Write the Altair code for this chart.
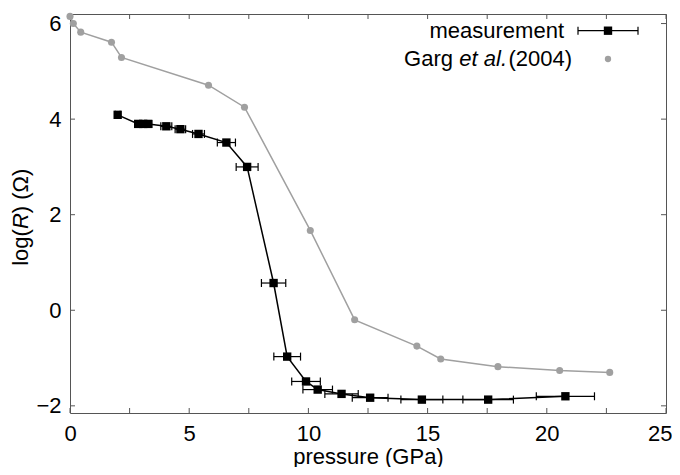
import altair as alt
import pandas as pd

# ---- data ----
meas_p = [2.0, 2.86, 3.07, 3.28, 4.04, 4.63, 5.39, 6.56, 7.43, 8.54, 9.11, 9.90,
          10.39, 11.39, 12.59, 14.76, 17.54, 20.78]
meas_r = [4.09, 3.90, 3.90, 3.90, 3.85, 3.79, 3.69, 3.51, 3.00, 0.57, -0.97, -1.49,
          -1.66, -1.75, -1.83, -1.87, -1.87, -1.80]
meas_err = [0.10, 0.15, 0.15, 0.15, 0.23, 0.22, 0.25, 0.38, 0.46, 0.51, 0.56, 0.60,
            0.62, 0.70, 0.75, 0.88, 1.06, 1.22]

garg_p = [0.0, 0.14, 0.45, 1.74, 2.16, 5.81, 7.32, 10.08, 11.94, 14.55, 15.55,
          17.95, 20.54, 22.64]
garg_r = [6.15, 6.00, 5.82, 5.61, 5.29, 4.71, 4.25, 1.67, -0.20, -0.75, -1.02,
          -1.18, -1.26, -1.30]

x_ticks = [0, 2.5, 5, 7.5, 10, 12.5, 15, 17.5, 20, 22.5, 25]
x_labels = [0, 5, 10, 15, 20, 25]
y_ticks = [-2, 0, 2, 4, 6]

W, H = 596, 399
FONT = "Liberation Sans"
FS = 22
GRAY = "#a0a0a0"

meas = pd.DataFrame({"p": meas_p, "r": meas_r, "e": meas_err})
meas["lo"] = meas["p"] - meas["e"]
meas["hi"] = meas["p"] + meas["e"]
garg = pd.DataFrame({"p": garg_p, "r": garg_r})
xt = pd.DataFrame({"t": x_ticks})
yt = pd.DataFrame({"t": y_ticks})
one = pd.DataFrame({"a": [0]})

xs = alt.Scale(domain=[0, 25], nice=False, zero=False)
ys = alt.Scale(domain=[-2.15, 6.2], nice=False, zero=False)

xaxis = alt.Axis(values=x_labels, ticks=False, domain=False, grid=False,
                 labelFont=FONT, labelFontSize=FS, labelColor="black", labelPadding=10,
                 labelFlush=True, labelFlushOffset=6,
                 title="pressure (GPa)", titleFont=FONT, titleFontSize=FS,
                 titleFontWeight="normal", titleColor="black", titlePadding=2,
                 format="d")
yaxis = alt.Axis(values=y_ticks, ticks=False, domain=False, grid=False,
                 labelFont=FONT, labelFontSize=FS, labelColor="black", labelPadding=9,
                 labelFlush=False, title=None, format="d")

X = lambda f: alt.X(f, type="quantitative", scale=xs, axis=xaxis)
Y = lambda f: alt.Y(f, type="quantitative", scale=ys, axis=yaxis)

garg_line = alt.Chart(garg).mark_line(color=GRAY, strokeWidth=1.5).encode(
    x=X("p"), y=Y("r"), order="p:Q")
garg_pts = alt.Chart(garg).mark_point(shape="circle", filled=True, size=50,
                                      color=GRAY, opacity=1).encode(x=X("p"), y=Y("r"))

err = alt.Chart(meas).mark_rule(color="black", strokeWidth=1.2).encode(
    x=X("lo"), x2="hi", y=Y("r"))
cap_lo = alt.Chart(meas).mark_tick(orient="vertical", size=8, thickness=1.2,
                                   color="black", opacity=1).encode(x=X("lo"), y=Y("r"))
cap_hi = alt.Chart(meas).mark_tick(orient="vertical", size=8, thickness=1.2,
                                   color="black", opacity=1).encode(x=X("hi"), y=Y("r"))
meas_line = alt.Chart(meas).mark_line(color="black", strokeWidth=1.5).encode(
    x=X("p"), y=Y("r"), order="p:Q")
meas_pts = alt.Chart(meas).mark_point(shape="square", filled=True, size=70,
                                      color="black", opacity=1).encode(x=X("p"), y=Y("r"))

TC = "#555555"
tick_b = alt.Chart(xt).mark_rule(color=TC, strokeWidth=1).encode(
    x=X("t"), y=alt.value(H), y2=alt.value(H - 5))
tick_t = alt.Chart(xt).mark_rule(color=TC, strokeWidth=1).encode(
    x=X("t"), y=alt.value(0), y2=alt.value(5))
tick_l = alt.Chart(yt).mark_rule(color=TC, strokeWidth=1).encode(
    y=Y("t"), x=alt.value(0), x2=alt.value(5))
tick_r = alt.Chart(yt).mark_rule(color=TC, strokeWidth=1).encode(
    y=Y("t"), x=alt.value(W), x2=alt.value(W - 5))


def txt(s, x, y, align="left", style="normal", angle=0):
    kw = dict(text=s, font=FONT, fontSize=FS, fontStyle=style, align=align,
              baseline="middle", color="black")
    if angle:
        kw["angle"] = angle
    return alt.Chart(one).mark_text(**kw).encode(x=alt.value(x), y=alt.value(y))


# y-axis title: log(R) (Ω) with italic R
ytitle = [
    txt("log(", -49, 251.8, angle=270),
    txt("R", -49, 215.1, style="italic", angle=270),
    txt(") (\u03a9)", -49, 199.2, angle=270),
]

# legend
leg = [
    txt("measurement", 494, 16.7, align="right"),
    txt("Garg", 383, 44.5, align="right"),
    txt("et al.", 437, 44.5, align="right", style="italic"),
    txt("(2004)", 502, 44.5, align="right"),
    alt.Chart(one).mark_rule(color="black", strokeWidth=1.2).encode(
        x=alt.value(508), x2=alt.value(568), y=alt.value(16.7)),
    alt.Chart(one).mark_rule(color="black", strokeWidth=1.2).encode(
        x=alt.value(508), y=alt.value(12.7), y2=alt.value(20.7)),
    alt.Chart(one).mark_rule(color="black", strokeWidth=1.2).encode(
        x=alt.value(568), y=alt.value(12.7), y2=alt.value(20.7)),
    alt.Chart(one).mark_point(shape="square", filled=True, size=70, color="black",
                              opacity=1).encode(x=alt.value(538), y=alt.value(16.7)),
    alt.Chart(one).mark_point(shape="circle", filled=True, size=40, color=GRAY,
                              opacity=1).encode(x=alt.value(538), y=alt.value(45)),
]

chart = alt.layer(
    tick_b, tick_t, tick_l, tick_r,
    garg_line, garg_pts,
    err, cap_lo, cap_hi, meas_line, meas_pts,
    *ytitle, *leg,
).properties(
    width=W, height=H,
    autosize=alt.AutoSizeParams(type="none"),
    padding={"left": 62, "top": 6, "right": 6, "bottom": 54},
    background="white",
).configure_view(stroke="#555555", strokeWidth=1)

chart.save("out.html", embed_options={"renderer": "svg", "actions": False})
